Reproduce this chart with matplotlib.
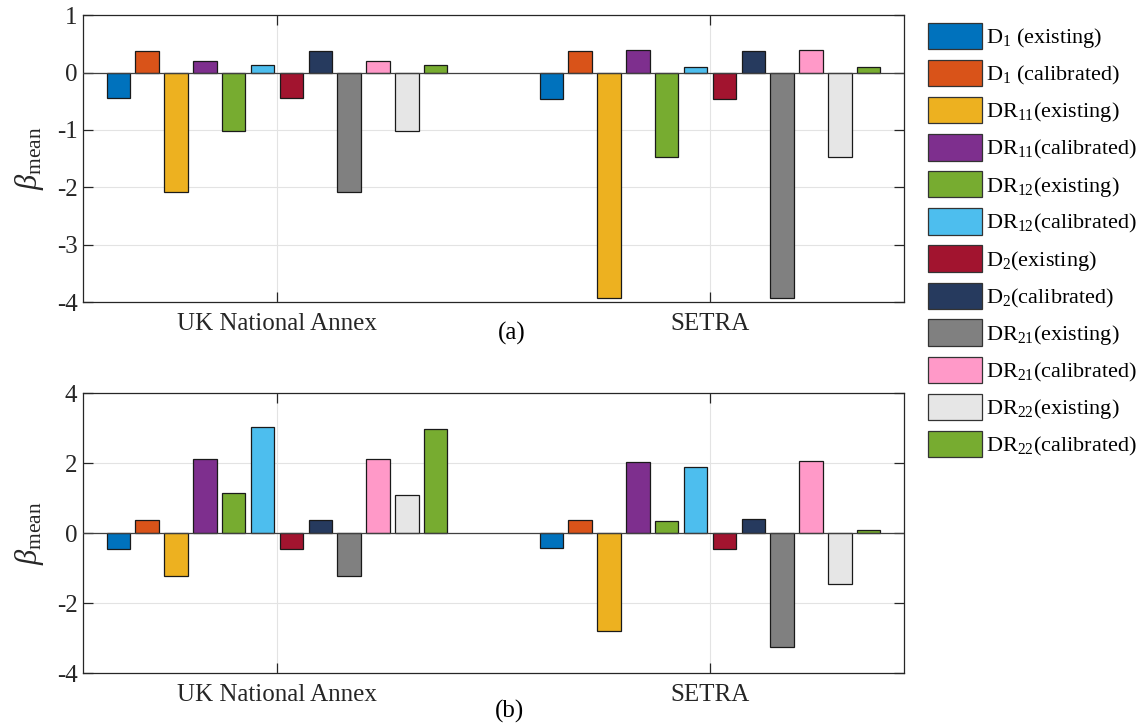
import numpy as np
import matplotlib
matplotlib.use("Agg")
import matplotlib.pyplot as plt
from matplotlib.patches import Patch

plt.rcParams["font.family"] = ["Liberation Serif", "DejaVu Serif"]
plt.rcParams["mathtext.fontset"] = "custom"
plt.rcParams["mathtext.rm"] = "Liberation Serif"
plt.rcParams["mathtext.it"] = "Liberation Serif:italic"
plt.rcParams["axes.unicode_minus"] = False

groups = ["UK National Annex", "SETRA"]
series = ["D$_1$ (existing)", "D$_1$ (calibrated)",
          "DR$_{11}$(existing)", "DR$_{11}$(calibrated)",
          "DR$_{12}$(existing)", "DR$_{12}$(calibrated)",
          "D$_2$(existing)", "D$_2$(calibrated)",
          "DR$_{21}$(existing)", "DR$_{21}$(calibrated)",
          "DR$_{22}$(existing)", "DR$_{22}$(calibrated)"]
colors = ["#0072BD", "#D95319", "#EDB120", "#7E2F8E", "#77AC30", "#4DBEEE",
          "#A2142F", "#263A5E", "#808080", "#FF99C8", "#E6E6E6", "#77AC30"]

# beta_mean, panel (a): one list per group, one value per series
beta_a_uk = [-0.45, 0.38, -2.08, 0.21, -1.02, 0.13, -0.45, 0.38, -2.08, 0.21, -1.02, 0.13]
beta_a_setra = [-0.46, 0.38, -3.93, 0.40, -1.47, 0.09, -0.46, 0.38, -3.93, 0.40, -1.47, 0.09]
# panel (b)
beta_b_uk = [-0.44, 0.38, -1.22, 2.11, 1.14, 3.04, -0.44, 0.38, -1.23, 2.11, 1.08, 2.97]
beta_b_setra = [-0.42, 0.38, -2.79, 2.05, 0.34, 1.90, -0.45, 0.40, -3.25, 2.07, -1.46, 0.09]

fig = plt.figure(figsize=(11.45, 7.23), dpi=100)
ax_a = fig.add_axes([0.0725, 0.582, 0.717, 0.397])
ax_b = fig.add_axes([0.0725, 0.069, 0.717, 0.387])

n = len(series)
slot = 0.8 / n
width = slot * 0.81
xg = np.arange(1, len(groups) + 1)


def draw(ax, uk, setra, ylim, yticks):
    data = np.array([uk, setra])
    for i in range(n):
        ax.bar(xg - 0.4 + slot * (i + 0.5), data[:, i], width=width,
               color=colors[i], edgecolor="#1a1a1a", linewidth=0.9, zorder=3)
    ax.axhline(0, color="#404040", lw=0.9, zorder=4)
    ax.set_xlim(0.552, 2.448)
    ax.set_ylim(*ylim)
    ax.set_yticks(yticks)
    ax.set_xticks(xg)
    ax.set_xticklabels(groups)
    ax.grid(True, color="#e3e3e3", lw=0.8, zorder=0)
    ax.tick_params(direction="in", length=7, width=0.9, top=True, right=True,
                   labelsize=18, colors="#262626", pad=8)
    ax.tick_params(axis="y", pad=4)
    for s in ax.spines.values():
        s.set_color("#262626")
        s.set_linewidth(0.9)
    ax.set_ylabel(r"$\beta_{\rm mean}$", fontsize=22, color="#262626")
    ax.yaxis.set_label_coords(-0.045, 0.5)


draw(ax_a, beta_a_uk, beta_a_setra, (-4, 1), [-4, -3, -2, -1, 0, 1])
draw(ax_b, beta_b_uk, beta_b_setra, (-4, 4), [-4, -2, 0, 2, 4])

fig.text(512 / 1145, 1 - 333 / 723, "(a)", fontsize=18, ha="center", va="center")
fig.text(510 / 1145, 1 - 711 / 723, "(b)", fontsize=18, ha="center", va="center")

handles = [Patch(facecolor=c, edgecolor="#333333", linewidth=0.9) for c in colors]
fig.legend(handles, series, loc="upper left", bbox_to_anchor=(0.803, 0.981),
           frameon=False, fontsize=16, handlelength=2.4, handleheight=1.45,
           labelspacing=0.44, handletextpad=0.2, borderaxespad=0)

fig.savefig("out.png", dpi=100)
